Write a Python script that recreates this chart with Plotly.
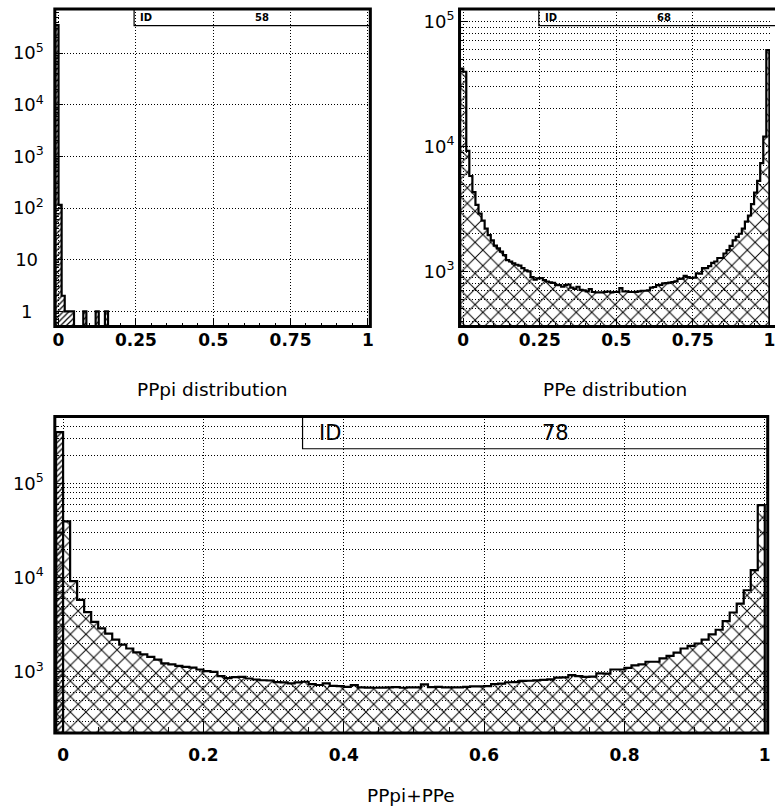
import plotly.graph_objects as go

W, H = 775, 809

# ---------------- data ----------------
bin_width = 0.01

# ID 58 : PPpi distribution (bin lower edges, counts)
pppi_bin_lo = [-0.01, 0.00, 0.01, 0.02, 0.03, 0.04, 0.05, 0.06, 0.07, 0.08,
               0.09, 0.10, 0.11, 0.12, 0.13, 0.14, 0.15]
pppi_counts = [350000, 115, 2, 1, 1, 1, 0, 0, 0, 1,
               0, 0, 0, 1, 0, 0, 1]

# ID 68 : PPe distribution (100 bins on [0,1]) + underflow bin [-0.01, 0)
ppe_bin_lo = [round(i * bin_width, 2) for i in range(100)]
ppe_counts = [39600, 9200, 5800, 4300, 3400, 2900, 2550, 2200, 1950, 1770,
              1610, 1530, 1440, 1350, 1230, 1200, 1160, 1130, 1110, 1060,
              1020, 1000, 900, 860, 880, 885, 850, 830, 815, 810,
              780, 775, 753, 775, 785, 740, 725, 753, 711, 705,
              692, 722, 684, 680, 678, 680, 685, 690, 678, 684,
              686, 735, 690, 692, 684, 684, 686, 692, 700, 700,
              705, 740, 750, 776, 780, 803, 805, 813, 822, 832,
              870, 875, 922, 900, 885, 890, 962, 960, 1060, 1060,
              1100, 1170, 1200, 1280, 1280, 1390, 1480, 1600, 1770, 1890,
              2000, 2200, 2500, 2800, 3450, 4270, 5300, 7350, 12000, 59000]
ppe_underflow_68 = 42000
ppe_underflow_78 = 30000

# ID 78 : PPpi+PPe (PPpi part shown as its single large bin)
sum_pppi_lo = [-0.01]
sum_pppi_counts = [350000]

x_tick_vals_top = [0, 0.25, 0.5, 0.75, 1]
x_tick_text_top = ["0", "0.25", "0.5", "0.75", "1"]
x_tick_vals_bot = [0, 0.2, 0.4, 0.6, 0.8, 1]
x_tick_text_bot = ["0", "0.2", "0.4", "0.6", "0.8", "1"]

y_tick_vals_58 = [1, 10, 100, 1000, 10000, 100000]
y_tick_text_58 = ["1\u00a0\u00a0", "10\u00a0", "10<sup>2</sup>", "10<sup>3</sup>",
                  "10<sup>4</sup>", "10<sup>5</sup>"]
y_tick_vals_68 = [1000, 10000, 100000]
y_tick_text_68 = ["10<sup>3</sup>", "10<sup>4</sup>", "10<sup>5</sup>"]
y_tick_vals_78 = [1000, 10000, 100000]
y_tick_text_78 = ["10<sup>3</sup>", "10<sup>4</sup>", "10<sup>5</sup>"]

panel_titles = ["PPpi distribution", "PPe distribution", "PPpi+PPe"]
panel_ids = ["58", "68", "78"]

# ---------------- helpers ----------------
FONT = "DejaVu Sans"
FLOOR = 1e-3


def fx(p):
    return p / W


def fy(p):
    return 1 - p / H


def hist(fig, lo, counts, xa, ya, shape, size, solidity):
    xs = [l + bin_width / 2 for l, c in zip(lo, counts) if c > 0]
    ys = [c for c in counts if c > 0]
    fig.add_trace(go.Bar(
        x=xs, y=ys, width=bin_width, xaxis=xa, yaxis=ya,
        marker=dict(color="black", line=dict(width=0),
                    pattern=dict(shape=shape, size=size, solidity=solidity,
                                 fillmode="replace")),
        showlegend=False, hoverinfo="skip"))
    hi = lo[-1] + bin_width
    sx = [lo[0]] + list(lo) + [hi, hi]
    sy = [FLOOR] + [c if c > 0 else FLOOR for c in counts] + \
         [counts[-1] if counts[-1] > 0 else FLOOR, FLOOR]
    fig.add_trace(go.Scatter(
        x=sx, y=sy, mode="lines", line=dict(color="black", width=2.2, shape="hv"),
        xaxis=xa, yaxis=ya, showlegend=False, hoverinfo="skip"))


fig = go.Figure()

# top-left
hist(fig, pppi_bin_lo, pppi_counts, "x", "y", "/", 4, 0.3)
# top-right
hist(fig, [-bin_width] + ppe_bin_lo, [ppe_underflow_68] + ppe_counts,
     "x2", "y2", "x", 11, 0.17)
# bottom
hist(fig, [-bin_width] + ppe_bin_lo, [ppe_underflow_78] + ppe_counts,
     "x3", "y3", "x", 11, 0.17)
hist(fig, sum_pppi_lo, sum_pppi_counts, "x3", "y3", "/", 4, 0.3)

grid = dict(showgrid=True, gridcolor="black", gridwidth=1, griddash="1px,2px")

xtickfont = dict(family=FONT, size=17, color="black", weight="bold")
ytickfont = dict(family=FONT, size=18, color="black")

# panel pixel boxes
TL = dict(x0=53.3, x1=371.7, y0=8, y1=326)
TR = dict(x0=461.7, x1=775, y0=8, y1=326)
BT = dict(x0=53.3, x1=772.7, y0=416, y1=733)


def xaxis(box, rng, tv, tt, anchor, standoff, mlen):
    return dict(domain=[fx(box["x0"]), fx(box["x1"])], range=rng, anchor=anchor,
                tickvals=tv, ticktext=tt, ticks="inside", ticklen=mlen, tickwidth=1,
                tickcolor="black", tickfont=xtickfont, ticklabelstandoff=standoff,
                ticklabeloverflow="allow",
                minor=dict(dtick=0.05, ticks="inside", ticklen=mlen // 2,
                           tickcolor="black", showgrid=False),
                showline=False, zeroline=False, **grid)


def yaxis(box, rng, tv, tt, anchor, standoff, minor_grid):
    return dict(domain=[fy(box["y1"]), fy(box["y0"])], type="log", range=rng,
                anchor=anchor, tickvals=tv, ticktext=tt, ticks="inside", ticklen=8,
                tickwidth=1, tickcolor="black", tickfont=ytickfont,
                ticklabelstandoff=standoff, ticklabeloverflow="allow",
                minor=dict(dtick="D1", ticks="inside", ticklen=4, tickcolor="black",
                           showgrid=minor_grid, gridcolor="black", gridwidth=1,
                           griddash="1px,2px"),
                showline=False, zeroline=False, **grid)


fig.update_layout(
    width=W, height=H, margin=dict(l=0, r=0, t=0, b=0),
    paper_bgcolor="white", plot_bgcolor="white",
    barmode="overlay", bargap=0, showlegend=False,
    font=dict(family=FONT, color="black"),
    xaxis=xaxis(TL, [-0.012, 1.008], x_tick_vals_top, x_tick_text_top, "y", 1, 8),
    yaxis=yaxis(TL, [-0.296, 5.855], y_tick_vals_58, y_tick_text_58, "x", 10, False),
    xaxis2=xaxis(TR, [-0.012, 1.002], x_tick_vals_top, x_tick_text_top, "y2", 1, 8),
    yaxis2=yaxis(TR, [2.558, 5.10], y_tick_vals_68, y_tick_text_68, "x2", 4, True),
    xaxis3=xaxis(BT, [-0.0118, 1.0042], x_tick_vals_bot, x_tick_text_bot, "y3", 10, 12),
    yaxis3=yaxis(BT, [2.35, 5.711], y_tick_vals_78, y_tick_text_78, "x3", 10, True),
)

shapes = []
annotations = []
boxes = [TL, TR, BT]
id_box_left = [133.3, 541.7, 303.3]
id_box_bottom = [24.7, 24.7, 448.3]
id_label_x = [145, 554, 331]
id_value_x = [262, 668, 559]
id_font = [10, 10, 21]
id_bold = [True, True, False]
title_y = [389, 389, 795]

for i, b in enumerate(boxes):
    x1 = b["x1"] + (10 if i == 1 else 0)
    # frame
    shapes.append(dict(type="rect", xref="paper", yref="paper",
                       x0=fx(b["x0"]), x1=fx(x1), y0=fy(b["y1"]), y1=fy(b["y0"]),
                       line=dict(color="black", width=3), layer="above"))
    # ID box
    shapes.append(dict(type="rect", xref="paper", yref="paper",
                       x0=fx(id_box_left[i]), x1=fx(x1), y0=fy(id_box_bottom[i]),
                       y1=fy(b["y0"]), line=dict(color="black", width=1.2),
                       layer="above"))
    ymid = fy((b["y0"] + id_box_bottom[i]) / 2)
    for txt, xx in (("ID", id_label_x[i]), (panel_ids[i], id_value_x[i])):
        t = "<b>%s</b>" % txt if id_bold[i] else txt
        annotations.append(dict(xref="paper", yref="paper", x=fx(xx), y=ymid,
                                text=t, showarrow=False, xanchor="center",
                                yanchor="middle",
                                font=dict(family=FONT, size=id_font[i],
                                          color="black")))
    # axis title
    annotations.append(dict(xref="paper", yref="paper",
                            x=fx((b["x0"] + b["x1"]) / 2), y=fy(title_y[i]),
                            text=panel_titles[i], showarrow=False, xanchor="center",
                            yanchor="middle",
                            font=dict(family=FONT, size=18.5, color="black")))

fig.update_layout(shapes=shapes, annotations=annotations)

fig.write_html("out.html", config={"displayModeBar": False},
               post_script="document.body.style.margin='0';"
                           "document.body.style.padding='0';")
